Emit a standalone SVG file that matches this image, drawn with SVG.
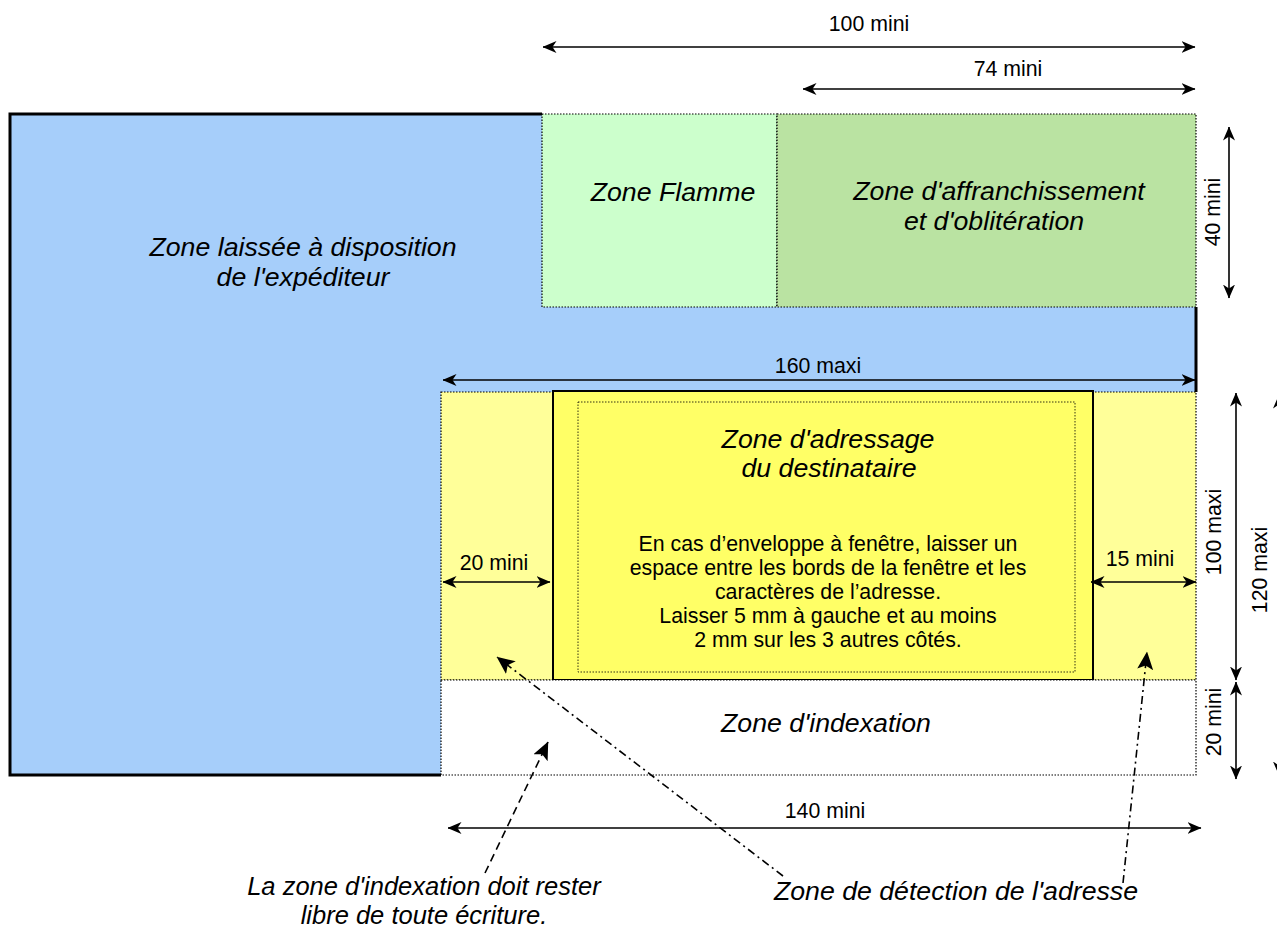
<svg xmlns="http://www.w3.org/2000/svg" width="1277" height="930" viewBox="0 0 1277 930">
<style>
text{font-family:"Liberation Sans",Arial,sans-serif;fill:#000}
.big{font-size:26.7px;font-style:italic;text-anchor:middle}
.note{font-size:25.5px;font-style:italic;text-anchor:middle}
.dim{font-size:21.3px;text-anchor:middle}
.body{font-size:21.3px;text-anchor:middle}
.dot{stroke:#000;stroke-width:1.2;stroke-dasharray:1.5,1.5}
.arr{stroke:#000;stroke-width:1.6;fill:none;marker-start:url(#a);marker-end:url(#a)}
.edge{stroke:#000;stroke-width:3;fill:none}
</style>
<defs>
<marker id="a" viewBox="0 0 14 12" refX="13.5" refY="6" markerWidth="14" markerHeight="12" markerUnits="userSpaceOnUse" orient="auto-start-reverse"><path d="M0,0 L14,6 L0,12 L4,6 Z" fill="#000"/></marker>
<marker id="b" viewBox="0 0 18 16" refX="17.5" refY="8" markerWidth="18" markerHeight="16" markerUnits="userSpaceOnUse" orient="auto"><path d="M0,0 L18,8 L0,16 L4,8 Z" fill="#000"/></marker>
</defs>
<rect width="1277" height="930" fill="#fff"/>
<g id="sender">
<path d="M10,114 H1196 V392 H441 V775 H10 Z" fill="#A6CEFA"/>
<path class="edge" d="M542,114 H10 V775 H441"/>
<path class="edge" d="M1196,307 V392"/>
<text class="big" x="303" y="256">Zone laissée à disposition</text>
<text class="big" x="303" y="286">de l'expéditeur</text>
</g>
<g id="flamme">
<rect class="dot" x="542" y="114" width="235" height="193" fill="#CCFFCC"/>
<text class="big" x="673" y="201">Zone Flamme</text>
</g>
<g id="affranchissement">
<rect class="dot" x="777" y="114" width="419" height="193" fill="#BAE3A2"/>
<text class="big" x="999" y="200">Zone d'affranchissement</text>
<text class="big" x="994" y="230">et d'oblitération</text>
</g>
<g id="detection">
<rect class="dot" x="441" y="392" width="755" height="288" fill="#FFFF99"/>
</g>
<g id="adressage">
<rect x="553" y="391" width="540" height="289" fill="#FFFF66" stroke="#000" stroke-width="2"/>
<rect x="578" y="402" width="497" height="270" fill="none" stroke="#000" stroke-width="0.8" stroke-dasharray="1.5,1.5"/>
<text class="big" x="828" y="448">Zone d'adressage</text>
<text class="big" x="829" y="477">du destinataire</text>
<text class="body" x="828" y="551">En cas d’enveloppe à fenêtre, laisser un</text>
<text class="body" x="828" y="575">espace entre les bords de la fenêtre et les</text>
<text class="body" x="828" y="599">caractères de l’adresse.</text>
<text class="body" x="828" y="623">Laisser 5 mm à gauche et au moins</text>
<text class="body" x="828" y="647">2 mm sur les 3 autres côtés.</text>
</g>
<g id="indexation">
<rect class="dot" x="441" y="680" width="755" height="95" fill="#fff"/>
<text class="big" x="826" y="732">Zone d'indexation</text>
</g>
<g id="notes">
<text class="note" x="424" y="895">La zone d'indexation doit rester</text>
<text class="note" x="424" y="924">libre de toute écriture.</text>
<text class="big" x="956" y="900">Zone de détection de l'adresse</text>
</g>
<g id="connectors">
<line class="arr" x1="543" y1="47" x2="1195" y2="47"/>
<text class="dim" x="869" y="31">100 mini</text>
<line class="arr" x1="803" y1="89" x2="1195" y2="89"/>
<text class="dim" x="1008" y="76">74 mini</text>
<line class="arr" x1="1229" y1="127" x2="1229" y2="298"/>
<text class="dim" transform="translate(1220,212) rotate(-90)">40 mini</text>
<line class="arr" x1="443" y1="380" x2="1195" y2="380"/>
<text class="dim" x="818" y="373">160 maxi</text>
<line class="arr" x1="443" y1="582" x2="550" y2="582"/>
<text class="dim" x="494" y="570">20 mini</text>
<line class="arr" x1="1091" y1="582" x2="1196" y2="582"/>
<text class="dim" x="1140" y="566">15 mini</text>
<line class="arr" x1="1236" y1="393" x2="1236" y2="680"/>
<text class="dim" transform="translate(1221,532) rotate(-90)">100 maxi</text>
<line class="arr" x1="1236" y1="682" x2="1236" y2="779"/>
<text class="dim" transform="translate(1221,722) rotate(-90)">20 mini</text>
<line class="arr" x1="1279" y1="395" x2="1279" y2="775"/>
<text class="dim" transform="translate(1267,570) rotate(-90)">120 maxi</text>
<line class="arr" x1="448" y1="828" x2="1201" y2="828"/>
<text class="dim" x="825" y="818">140 mini</text>
<line x1="485" y1="873" x2="548" y2="742" stroke="#000" stroke-width="1.6" stroke-dasharray="8,5" marker-end="url(#b)"/>
<line x1="783" y1="876" x2="497" y2="657" stroke="#000" stroke-width="1.6" stroke-dasharray="8,4,2,4" marker-end="url(#b)"/>
<line x1="1123" y1="883" x2="1147" y2="652" stroke="#000" stroke-width="1.6" stroke-dasharray="8,4,2,4" marker-end="url(#b)"/>
</g>
</svg>
